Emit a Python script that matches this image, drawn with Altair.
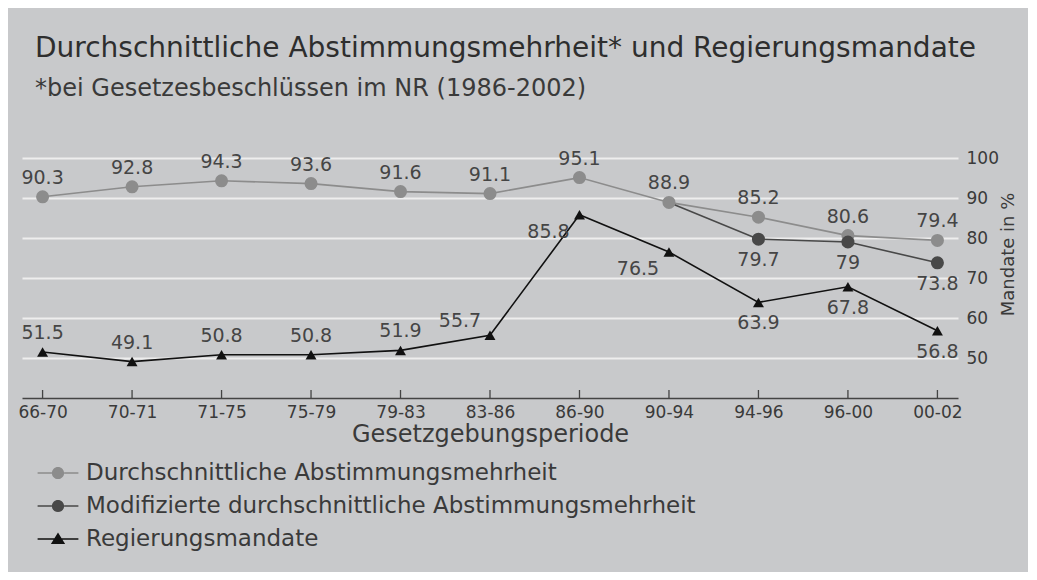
import altair as alt
import pandas as pd

periods = ["66-70", "70-71", "71-75", "75-79", "79-83", "83-86", "86-90", "90-94", "94-96", "96-00", "00-02"]
durchschnitt = [90.3, 92.8, 94.3, 93.6, 91.6, 91.1, 95.1, 88.9, 85.2, 80.6, 79.4]
modifiziert = [None, None, None, None, None, None, None, 88.9, 79.7, 79.0, 73.8]
regierung = [51.5, 49.1, 50.8, 50.8, 51.9, 55.7, 85.8, 76.5, 63.9, 67.8, 56.8]
y_ticks = [50, 60, 70, 80, 90, 100]

S1 = "Durchschnittliche Abstimmungsmehrheit"
S2 = "Modifizierte durchschnittliche Abstimmungsmehrheit"
S3 = "Regierungsmandate"
series_names = [S1, S2, S3]
series_colors = ["#8c8c8c", "#484848", "#111111"]

# label placement (style only)
pos1 = ["above"] * 11
pos2 = ["none"] * 8 + ["below"] * 3
pos3 = ["above"] * 5 + ["upleft", "downleft", "downleft", "below", "below", "below"]

rows = []
for name, vals, pos in [(S1, durchschnitt, pos1), (S2, modifiziert, pos2), (S3, regierung, pos3)]:
    for p, v, ps in zip(periods, vals, pos):
        if v is None:
            continue
        rows.append({"period": p, "series": name, "value": v, "pos": ps, "label": f"{v:g}"})
df = pd.DataFrame(rows)

FONT = "DejaVu Sans"
TXT = "#3a3a3a"

# legend glyphs: short line segments on both sides of the marker (filled thin bars)
seg_c = "M-1.2,-0.05L-0.36,-0.05L-0.36,0.05L-1.2,0.05ZM0.36,-0.05L1.2,-0.05L1.2,0.05L0.36,0.05Z"
seg_t = "M-1.2,-0.05L-0.2,-0.05L-0.2,0.05L-1.2,0.05ZM0.2,-0.05L1.2,-0.05L1.2,0.05L0.2,0.05Z"
c_path = seg_c + "M-0.36,0A0.36,0.36,0,1,0,0.36,0A0.36,0.36,0,1,0,-0.36,0Z"
t_path = seg_t + "M0,-0.38L0.42,0.3L-0.42,0.3Z"

color_scale = alt.Scale(domain=series_names, range=series_colors)

legend = alt.Legend(
    title=None, orient="none", legendX=19, legendY=298, direction="vertical",
    labelFont=FONT, labelFontSize=23, labelColor=TXT,
    labelOffset=11, rowPadding=4, padding=0, symbolSize=1156,
    symbolStrokeWidth=0, symbolOpacity=1,
    labelLimit=900,
)

x = alt.X("period:N", sort=periods, title="Gesetzgebungsperiode",
          scale=alt.Scale(type="point", padding=0.23),
          axis=alt.Axis(labelAngle=0, labelFont=FONT, labelFontSize=17, labelColor=TXT,
                        labelPadding=6, ticks=False, domainColor="#444444", domainWidth=1.5,
                        titleFont=FONT, titleFontSize=24, titleColor=TXT, titleFontWeight="normal",
                        titlePadding=2, grid=False))
y = alt.Y("value:Q", title="Mandate in %", scale=alt.Scale(domain=[40, 100], nice=False, zero=False),
          axis=alt.Axis(orient="right", values=y_ticks, labelFont=FONT, labelFontSize=17,
                        labelColor=TXT, labelPadding=8, ticks=False, domain=False,
                        grid=True, gridColor="#eeeeee", gridWidth=2,
                        titleFont=FONT, titleFontSize=18, titleColor=TXT, titleFontWeight="normal",
                        titleAngle=270, titleX=50, titleY=96, titleAlign="center",
                        titleBaseline="middle"))

base = alt.Chart(df)

def series_line(name, col):
    return base.transform_filter(alt.datum.series == name).mark_line(
        strokeWidth=1.6, color=col).encode(x=x, y=y)

lines = [series_line(n, c) for n, c in zip(series_names, series_colors)]

ticks = base.transform_filter(alt.datum.series == S1).mark_rule(color="#444444", strokeWidth=1.3).encode(
    x=x, y=alt.value(232), y2=alt.value(240))

c1 = base.transform_filter(alt.datum.series == S1).mark_circle(
    opacity=1, size=170, color=series_colors[0]).encode(x=x, y=y)
c2 = base.transform_filter((alt.datum.series == S2) & (alt.datum.pos != "none")).mark_circle(
    opacity=1, size=170, color=series_colors[1]).encode(x=x, y=y)
tris = base.transform_filter(alt.datum.series == S3).mark_point(
    filled=True, opacity=1, size=120, shape="triangle-up", color=series_colors[2]).encode(x=x, y=y)

legend_layer = base.transform_filter("false").mark_point(filled=True, opacity=1, size=1156).encode(
    x=x, y=y,
    color=alt.Color("series:N", scale=color_scale, legend=legend),
    shape=alt.Shape("series:N", scale=alt.Scale(domain=series_names, range=[c_path, c_path, t_path]),
                    legend=legend))

def lab(p, dx, dy, baseline):
    return base.transform_filter(alt.datum.pos == p).mark_text(
        font=FONT, fontSize=19, color="#454545", dx=dx, dy=dy, baseline=baseline).encode(
        x=x, y=y, text="label:N")

labels = [lab("above", 0, -9, "bottom"), lab("below", 0, 12, "top"),
          lab("upleft", -30, -4, "bottom"), lab("downleft", -31, 8, "top")]

chart = alt.layer(*lines, ticks, c1, c2, tris, *labels, legend_layer).properties(
    width=936, height=240,
    title=alt.TitleParams(
        text="Durchschnittliche Abstimmungsmehrheit* und Regierungsmandate",
        subtitle="*bei Gesetzesbeschlüssen im NR (1986-2002)",
        anchor="start", frame="group", dx=13, offset=48,
        font=FONT, fontSize=28, fontWeight="normal", color="#2e2e2e",
        subtitleFont=FONT, subtitleFontSize=24, subtitleColor="#3a3a3a", subtitlePadding=14),
    padding={"left": 14, "top": 150, "right": 70, "bottom": 174},
    autosize=alt.AutoSizeParams(type="none"),
    background="#c8c9cb",
).configure_view(stroke=None)

chart.save("out.html", embed_options={"renderer": "svg", "actions": False})
